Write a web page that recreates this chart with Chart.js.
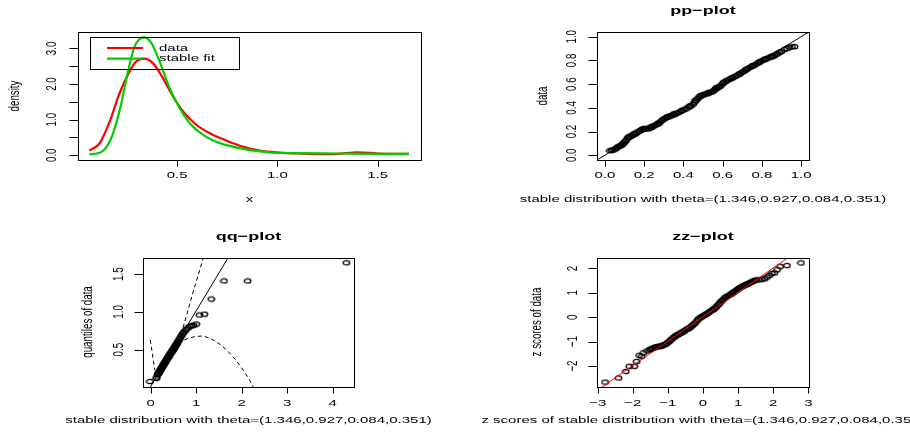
<!DOCTYPE html>
<html>
<head>
<meta charset="utf-8">
<script src="https://cdn.jsdelivr.net/npm/chart.js@4.4.0/dist/chart.umd.min.js"></script>
<style>
  html, body { margin: 0; padding: 0; background: #fff; }
  #wrap { position: relative; width: 910px; height: 434px; overflow: hidden; }
  canvas { position: absolute; left: 0; top: 0; }
</style>
</head>
<body>
<div id="wrap">
  <canvas id="dens" width="910" height="434"></canvas>
  <canvas id="pp" width="910" height="434"></canvas>
  <canvas id="qq" width="910" height="434"></canvas>
  <canvas id="zz" width="910" height="434"></canvas>
</div>
<script>
// ---- density panel: kernel density of data vs stable fit
const densX = [0.063, 0.113, 0.163, 0.213, 0.263, 0.296, 0.335, 0.38, 0.43, 0.48, 0.53, 0.597, 0.663, 0.747, 0.83, 0.913, 0.993, 1.1, 1.2, 1.3, 1.4, 1.5, 1.656];
const densY = [0.13, 0.33, 0.93, 1.74, 2.35, 2.63, 2.71, 2.58, 2.16, 1.65, 1.23, 0.85, 0.62, 0.41, 0.24, 0.13, 0.08, 0.05, 0.03, 0.04, 0.08, 0.05, 0.04];
const fitX = [0.063, 0.1, 0.13, 0.155, 0.18, 0.22, 0.255, 0.288, 0.335, 0.372, 0.413, 0.463, 0.513, 0.563, 0.63, 0.713, 0.83, 0.93, 0.993, 1.1, 1.3, 1.5, 1.656];
const fitY = [0.03, 0.05, 0.12, 0.29, 0.6, 1.41, 2.35, 3.05, 3.31, 3.15, 2.63, 1.88, 1.32, 0.90, 0.57, 0.34, 0.18, 0.10, 0.07, 0.06, 0.05, 0.04, 0.04];
const legendLabels = ['data', 'stable fit'];

// ---- pp-plot
const ppX = [0.025,0.035,0.04,0.05,0.058,0.065,0.072,0.078,0.085,0.09,0.095,0.1,0.105,0.11,0.115,0.12,0.127,0.135,0.143,0.153,0.16,0.17,0.178,0.186,0.193,0.2,0.208,0.215,0.222,0.229,0.237,0.245,0.252,0.26,0.268,0.275,0.283,0.29,0.298,0.306,0.314,0.322,0.33,0.338,0.346,0.356,0.365,0.375,0.385,0.395,0.407,0.418,0.428,0.438,0.449,0.457,0.465,0.473,0.48,0.487,0.495,0.503,0.511,0.519,0.527,0.535,0.543,0.55,0.557,0.564,0.571,0.578,0.585,0.592,0.6,0.607,0.615,0.623,0.632,0.641,0.652,0.662,0.672,0.683,0.695,0.705,0.715,0.726,0.737,0.748,0.758,0.768,0.78,0.79,0.8,0.811,0.822,0.833,0.845,0.855,0.864,0.872,0.88,0.89,0.9,0.915,0.928,0.94,0.953,0.966,
             0.148,0.197,0.233,0.272,0.318,0.352,0.39,0.432,0.46,0.49,0.53,0.568,0.604,0.645,0.688,0.72,0.752,0.785,0.817,0.85];
const ppY = [0.039,0.042,0.045,0.052,0.06,0.07,0.075,0.08,0.088,0.095,0.1,0.113,0.12,0.13,0.145,0.155,0.158,0.165,0.172,0.18,0.19,0.2,0.208,0.217,0.22,0.222,0.223,0.225,0.227,0.229,0.235,0.245,0.252,0.258,0.265,0.272,0.282,0.295,0.305,0.312,0.32,0.325,0.33,0.335,0.34,0.347,0.355,0.362,0.37,0.38,0.388,0.398,0.408,0.418,0.43,0.448,0.465,0.48,0.493,0.5,0.507,0.512,0.516,0.52,0.525,0.53,0.535,0.54,0.55,0.56,0.568,0.575,0.581,0.592,0.605,0.617,0.626,0.633,0.64,0.647,0.655,0.665,0.674,0.685,0.697,0.707,0.718,0.73,0.741,0.75,0.758,0.767,0.779,0.789,0.798,0.807,0.815,0.822,0.83,0.836,0.843,0.852,0.86,0.87,0.877,0.893,0.902,0.912,0.915,0.917,
             0.182,0.226,0.24,0.27,0.324,0.35,0.378,0.415,0.463,0.505,0.532,0.572,0.614,0.652,0.688,0.726,0.756,0.785,0.812,0.835];

// ---- qq-plot
const qqX = [-0.02,0.12,0.13,0.15,0.16,0.17,0.18,0.19,0.2,0.21,0.22,0.23,0.24,0.25,0.26,0.27,0.28,0.29,0.3,0.31,0.32,0.33,0.34,0.35,0.36,0.37,0.38,0.39,0.4,0.41,0.42,0.43,0.44,0.45,0.46,0.47,0.48,0.49,0.5,0.51,0.52,0.53,0.54,0.55,0.56,0.57,0.58,0.6,0.62,0.64,0.66,0.68,0.7,0.72,0.75,0.78,0.82,0.86,0.9,0.94,1.0,1.07,1.18,1.33,1.61,2.13,4.3];
const qqY = [0.08,0.12,0.14,0.17,0.18,0.19,0.2,0.21,0.22,0.23,0.245,0.25,0.26,0.275,0.28,0.29,0.3,0.315,0.32,0.33,0.34,0.35,0.36,0.37,0.38,0.39,0.4,0.41,0.415,0.43,0.435,0.45,0.455,0.465,0.475,0.485,0.49,0.5,0.51,0.52,0.53,0.54,0.55,0.56,0.57,0.58,0.59,0.61,0.63,0.65,0.67,0.69,0.71,0.73,0.75,0.77,0.79,0.81,0.82,0.825,0.84,0.96,0.97,1.17,1.41,1.41,1.65];
const qqLineX = [-0.2, 1.9];
const qqLineY = [-0.185, 1.915];
const qqUpX = [0.71, 0.93, 1.17];
const qqUpY = [0.79, 1.26, 1.74];
const qqLowLeftX = [-0.01, 0.09];
const qqLowLeftY = [0.63, 0.23];
const qqLowX = [0.6, 0.855, 1.11, 1.37, 1.66, 1.95, 2.21, 2.26];
const qqLowY = [0.59, 0.656, 0.68, 0.63, 0.5, 0.3, 0.06, 0.0];

// ---- zz-plot
const zzX = [-2.79,-2.41,-2.2,-2.1,-1.96,-1.89,-1.82,-1.75,-1.7,-1.6,-1.52,-1.46,-1.39,-1.32,-1.25,-1.18,-1.1,-1.04,-0.97,-0.9,-0.82,-0.75,-0.7,-0.66,-0.6,-0.57,-0.52,-0.48,-0.43,-0.38,-0.31,-0.24,-0.16,-0.09,-0.02,0.05,0.12,0.19,0.26,0.33,0.4,0.47,0.54,0.61,0.68,0.76,0.83,0.9,0.97,1.04,1.11,1.18,1.25,1.32,1.39,1.46,1.53,1.61,1.68,1.75,1.82,1.89,1.96,2.03,2.11,2.2,2.39,2.79,
             -1.5,-1.43,-1.36,-1.29,-1.21,-1.14,-1.07,-1.0,-0.93,-0.86,-0.79,-0.72,-0.63,-0.55,-0.45,-0.35,-0.28,-0.2,-0.13,-0.05,0.02,0.09,0.16,0.23,0.3,0.37,0.44,0.5,0.57,0.64,0.72,0.8,0.87,0.94,1.0,1.07,1.14,1.21,1.28,1.35,1.42,1.49];
const zzY = [-2.66,-2.49,-2.22,-2.01,-2.01,-1.81,-1.56,-1.6,-1.46,-1.38,-1.33,-1.28,-1.24,-1.21,-1.19,-1.17,-1.12,-1.08,-0.99,-0.9,-0.8,-0.73,-0.7,-0.66,-0.62,-0.59,-0.55,-0.5,-0.47,-0.43,-0.34,-0.25,-0.12,-0.02,0.04,0.1,0.16,0.23,0.3,0.37,0.47,0.58,0.68,0.79,0.86,0.92,0.99,1.06,1.13,1.2,1.26,1.31,1.36,1.4,1.46,1.51,1.53,1.54,1.56,1.58,1.65,1.72,1.8,1.82,1.95,2.09,2.12,2.23,
             -1.31,-1.27,-1.22,-1.2,-1.18,-1.14,-1.1,-1.03,-0.94,-0.85,-0.77,-0.71,-0.64,-0.57,-0.48,-0.39,-0.3,-0.19,-0.07,0.01,0.07,0.13,0.2,0.27,0.33,0.42,0.53,0.63,0.73,0.82,0.89,0.96,1.03,1.1,1.16,1.23,1.28,1.33,1.38,1.43,1.48,1.52];
const zzLineX = [-3.2, 3.2];
const zzLineY = [-3.18, 3.22];

// ---- tick labels
const densXTicks = [0.5, 1.0, 1.5];
const densXLabels = ['0.5', '1.0', '1.5'];
const densYTicks = [0, 0.5, 1, 1.5, 2, 2.5, 3];
const densYLabels = ['0.0', '', '1.0', '', '2.0', '', '3.0'];
const ppTicks = [0, 0.2, 0.4, 0.6, 0.8, 1.0];
const ppLabels = ['0.0', '0.2', '0.4', '0.6', '0.8', '1.0'];
const qqXTicks = [0, 1, 2, 3, 4];
const qqXLabels = ['0', '1', '2', '3', '4'];
const qqYTicks = [0.5, 1.0, 1.5];
const qqYLabels = ['0.5', '1.0', '1.5'];
const zzXTicks = [-3, -2, -1, 0, 1, 2, 3];
const zzXLabels = ['\u22123', '\u22122', '\u22121', '0', '1', '2', '3'];
const zzYTicks = [-2, -1, 0, 1, 2];
const zzYLabels = ['\u22122', '\u22121', '0', '1', '2'];

const subText = 'stable distribution with theta=(1.346,0.927,0.084,0.351)';

const FONT = '"Liberation Sans", Arial, Helvetica, sans-serif';
const SY = 0.65;   // picture is squashed vertically
const RED = '#FF0000', GREEN = '#00CD00';

function pts(xs, ys) { return xs.map((x, i) => ({ x: x, y: ys[i] })); }

function txt(ctx, s, x, y, size, o) {
  o = o || {};
  ctx.save();
  ctx.translate(x, y);
  ctx.scale(1, SY);
  if (o.rot) ctx.rotate(-Math.PI / 2);
  ctx.font = (o.bold ? 'bold ' : '') + size + 'px ' + FONT;
  ctx.textAlign = o.align || 'center';
  ctx.textBaseline = 'middle';
  ctx.fillStyle = '#000';
  ctx.fillText(s, 0, 0);
  ctx.restore();
}

function ring() {
  const c = document.createElement('canvas');
  c.width = 9; c.height = 7;
  const g = c.getContext('2d');
  g.strokeStyle = '#000';
  g.lineWidth = 1.3;
  g.beginPath();
  g.ellipse(4.5, 3.5, 3.3, 2.2, 0, 0, Math.PI * 2);
  g.stroke();
  return c;
}
const RING = ring();

// R style box, ticks and texts
function frame(sp) {
  return {
    id: 'frame',
    afterDraw(chart) {
      const ctx = chart.ctx, a = chart.chartArea;
      const xs = chart.scales.x, ys = chart.scales.y;
      const L = Math.round(a.left) + 0.5, R = Math.round(a.right) + 0.5;
      const T = Math.round(a.top) + 0.5, B = Math.round(a.bottom) + 0.5;
      ctx.save();
      ctx.strokeStyle = '#000';
      ctx.lineWidth = 1;
      ctx.strokeRect(L, T, R - L, B - T);
      ctx.beginPath();
      sp.xTicks.forEach(v => {
        const p = Math.round(xs.getPixelForValue(v)) + 0.5;
        ctx.moveTo(p, B); ctx.lineTo(p, B + 6);
      });
      sp.yTicks.forEach(v => {
        const p = Math.round(ys.getPixelForValue(v)) + 0.5;
        ctx.moveTo(L, p); ctx.lineTo(L - 9, p);
      });
      ctx.stroke();
      sp.xTicks.forEach((v, i) => {
        if (sp.xLabels[i]) txt(ctx, sp.xLabels[i], xs.getPixelForValue(v), B + sp.xLabOff, 15);
      });
      sp.yTicks.forEach((v, i) => {
        if (sp.yLabels[i]) txt(ctx, sp.yLabels[i], L - sp.yLabOff, ys.getPixelForValue(v), 15, { rot: true });
      });
      sp.texts.forEach(t => txt(ctx, t.s, t.x, t.y, t.size || 15, t));
      if (sp.legend) {
        const lg = sp.legend;
        ctx.strokeStyle = '#000';
        ctx.lineWidth = 1;
        ctx.strokeRect(lg.x + 0.5, lg.y + 0.5, lg.w, lg.h);
        chart.data.datasets.forEach((ds, i) => {
          const y = lg.y + 11 + i * 10.6;
          ctx.strokeStyle = ds.borderColor;
          ctx.lineWidth = 2.2;
          ctx.beginPath();
          ctx.moveTo(lg.x + 17, y); ctx.lineTo(lg.x + 53, y);
          ctx.stroke();
          txt(ctx, ds.label, lg.x + 69, y, 15, { align: 'left' });
        });
      }
      ctx.restore();
    }
  };
}

function panel(id, box, xlim, ylim, datasets, sp) {
  return new Chart(document.getElementById(id), {
    type: 'scatter',
    data: { datasets: datasets },
    options: {
      responsive: false,
      animation: false,
      devicePixelRatio: 1,
      events: [],
      layout: {
        autoPadding: false,
        padding: { left: box.l, top: box.t, right: 910 - box.r, bottom: 434 - box.b }
      },
      scales: {
        x: { type: 'linear', min: xlim[0], max: xlim[1], display: false },
        y: { type: 'linear', min: ylim[0], max: ylim[1], display: false }
      },
      plugins: { legend: { display: false }, tooltip: { enabled: false } }
    },
    plugins: [frame(sp)]
  });
}

// higher order is drawn first (underneath)
function curve(label, xs, ys, color, width, dash, smooth, order) {
  return {
    label: label, data: pts(xs, ys), showLine: true, pointRadius: 0,
    borderColor: color, borderWidth: width, borderDash: dash || [],
    cubicInterpolationMode: smooth ? 'monotone' : 'default', clip: 0,
    order: order || 0
  };
}
function dots(xs, ys, order) {
  return { data: pts(xs, ys), pointStyle: RING, pointRadius: 3, showLine: false, order: order || 0 };
}

// density
panel('dens', { l: 78, t: 32, r: 421, b: 160 }, [0.006, 1.716], [-0.133, 3.46], [
  curve(legendLabels[0], densX, densY, RED, 2.2, null, true, 2),
  curve(legendLabels[1], fitX, fitY, GREEN, 2.2, null, true, 1)
], {
  xTicks: densXTicks, xLabels: densXLabels, yTicks: densYTicks, yLabels: densYLabels,
  xLabOff: 15, yLabOff: 27,
  texts: [
    { s: 'x', x: 249.5, y: 199 },
    { s: 'density', x: 15, y: 96, rot: true }
  ],
  legend: { x: 90, y: 37, w: 149, h: 32 }
});

// pp
panel('pp', { l: 597, t: 32, r: 809, b: 160 }, [-0.04, 1.04], [-0.04, 1.04], [
  curve('', [-0.1, 1.1], [-0.1, 1.1], '#000', 1, null, false, 2),
  dots(ppX, ppY, 1)
], {
  xTicks: ppTicks, xLabels: ppLabels, yTicks: ppTicks, yLabels: ppLabels,
  xLabOff: 15, yLabOff: 26,
  texts: [
    { s: 'pp\u2212plot', x: 703, y: 11, size: 18, bold: true },
    { s: 'data', x: 543, y: 96, rot: true },
    { s: subText, x: 703, y: 199 }
  ]
});

// qq
panel('qq', { l: 143, t: 258, r: 354, b: 387 }, [-0.17, 4.47], [0.007, 1.713], [
  curve('', qqLineX, qqLineY, '#000', 1, null, false, 1),
  curve('', qqUpX, qqUpY, '#000', 1, [4, 3], false, 1),
  curve('', qqLowLeftX, qqLowLeftY, '#000', 1, [4, 3], false, 1),
  curve('', qqLowX, qqLowY, '#000', 1, [4, 3], true, 1),
  dots(qqX, qqY, 2)
], {
  xTicks: qqXTicks, xLabels: qqXLabels, yTicks: qqYTicks, yLabels: qqYLabels,
  xLabOff: 16, yLabOff: 25,
  texts: [
    { s: 'qq\u2212plot', x: 248.5, y: 237, size: 18, bold: true },
    { s: 'quantiles of data', x: 88, y: 322, rot: true },
    { s: subText, x: 248.5, y: 420 }
  ]
});

// zz
panel('zz', { l: 597, t: 258, r: 809, b: 387 }, [-3.02, 3.02], [-2.86, 2.43], [
  dots(zzX, zzY, 2),
  curve('', zzLineX, zzLineY, RED, 1, null, false, 1)
], {
  xTicks: zzXTicks, xLabels: zzXLabels, yTicks: zzYTicks, yLabels: zzYLabels,
  xLabOff: 16, yLabOff: 25,
  texts: [
    { s: 'zz\u2212plot', x: 703, y: 237, size: 18, bold: true },
    { s: 'z scores of data', x: 537, y: 322, rot: true },
    { s: 'z scores of ' + subText, x: 703, y: 420 }
  ]
});
</script>
</body>
</html>
